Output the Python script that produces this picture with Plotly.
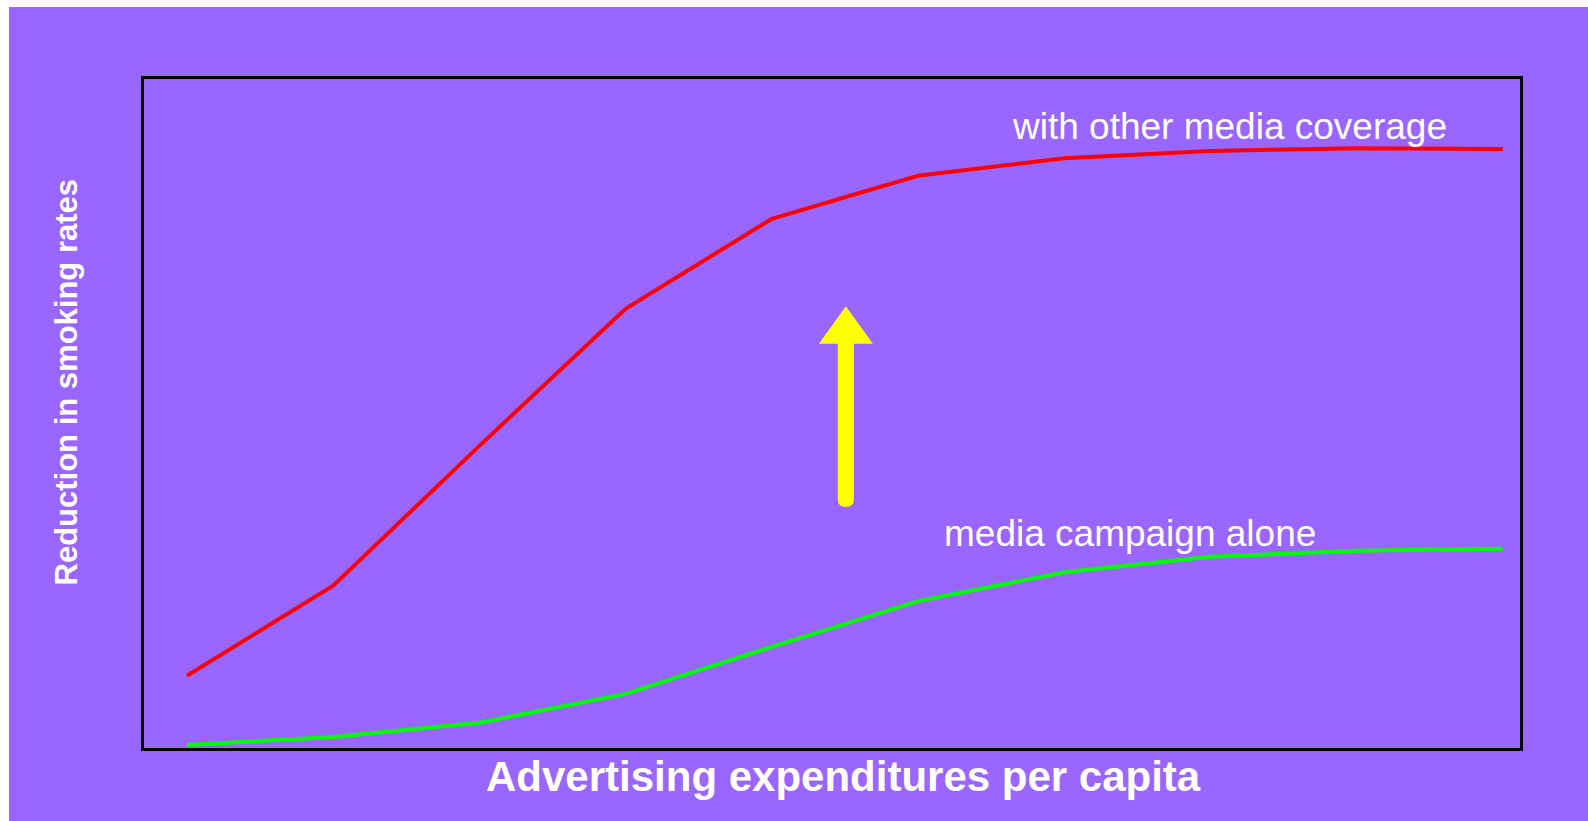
import plotly.graph_objects as go

# Spending levels (equally spaced steps along the x axis)
spending_steps = [0, 1, 2, 3, 4, 5, 6, 7, 8, 9]

# Reduction in smoking rates (relative units, 0-100 scale)
with_other_media = [10.9, 24.3, 45.1, 65.5, 78.9, 85.3, 87.9, 89.0, 89.4, 89.3]
campaign_alone = [0.6, 1.8, 3.9, 8.2, 15.2, 22.0, 26.3, 28.6, 29.5, 29.8]

series_labels = ["with other media coverage", "media campaign alone"]
x_title = "Advertising expenditures per capita"
y_title = "Reduction in smoking rates"

PURPLE = "#9966FF"
FONT = "Liberation Sans, Arial, sans-serif"

fig = go.Figure()
fig.add_trace(go.Scatter(x=spending_steps, y=with_other_media, mode="lines",
                         line=dict(color="#FF0000", width=4), hoverinfo="skip"))
fig.add_trace(go.Scatter(x=spending_steps, y=campaign_alone, mode="lines",
                         line=dict(color="#00FF00", width=4), hoverinfo="skip"))

# Upward arrow between the two curves (data units)
ax_c, shaft_hw, head_hw = 4.507, 0.055, 0.185
shaft_bottom, head_base, head_tip, cap_r = 37.2, 60.3, 65.9, 1.2
arrow_path = (
    f"M {ax_c - shaft_hw} {shaft_bottom} "
    f"L {ax_c - shaft_hw} {head_base} L {ax_c - head_hw} {head_base} "
    f"L {ax_c} {head_tip} L {ax_c + head_hw} {head_base} "
    f"L {ax_c + shaft_hw} {head_base} L {ax_c + shaft_hw} {shaft_bottom} "
    f"Q {ax_c + shaft_hw} {shaft_bottom - cap_r} {ax_c} {shaft_bottom - cap_r} "
    f"Q {ax_c - shaft_hw} {shaft_bottom - cap_r} {ax_c - shaft_hw} {shaft_bottom} Z"
)

L, R, T, B = 144, 68, 79, 73
W, H = 1588 - L - R, 821 - T - B

shapes = [
    dict(type="path", path=arrow_path, xref="x", yref="y",
         fillcolor="#FFFF00", line=dict(width=0), layer="above"),
    # thin white strips along the top and left edges of the page
    dict(type="rect", xref="paper", yref="paper",
         x0=-L / W, x1=-(L - 9) / W, y0=-B / H, y1=1 + T / H,
         fillcolor="white", line=dict(width=0)),
    dict(type="rect", xref="paper", yref="paper",
         x0=-L / W, x1=1 + R / W, y0=1 + (T - 7) / H, y1=1 + T / H,
         fillcolor="white", line=dict(width=0)),
]

annotations = [
    dict(x=5.63, y=92.6, xref="x", yref="y", text=series_labels[0],
         showarrow=False, xanchor="left", yanchor="middle",
         font=dict(family=FONT, size=37, color="white")),
    dict(x=5.164, y=32.1, xref="x", yref="y", text=series_labels[1],
         showarrow=False, xanchor="left", yanchor="middle",
         font=dict(family=FONT, size=37, color="white")),
    dict(x=(843.5 - L) / W, y=-(776 - T - H) / H, xref="paper", yref="paper",
         text=f"<b>{x_title}</b>", showarrow=False,
         xanchor="center", yanchor="middle",
         font=dict(family=FONT, size=42, color="white")),
    dict(x=-(L - 66) / W, y=1 - (382.5 - T) / H, xref="paper", yref="paper",
         text=f"<b>{y_title}</b>", showarrow=False, textangle=-90,
         xanchor="center", yanchor="middle",
         font=dict(family=FONT, size=31, color="white")),
]

axis_common = dict(showgrid=False, zeroline=False, showticklabels=False,
                   ticks="", showline=True, mirror=True,
                   linecolor="black", linewidth=2.5)

fig.update_layout(
    width=1588, height=821,
    margin=dict(l=L, r=R, t=T, b=B),
    paper_bgcolor=PURPLE, plot_bgcolor=PURPLE,
    showlegend=False,
    xaxis=dict(range=[-0.294, 9.118], **axis_common),
    yaxis=dict(range=[0.149, 99.70], **axis_common),
    shapes=shapes, annotations=annotations,
)

fig.write_html("out.html", config={"displayModeBar": False})
